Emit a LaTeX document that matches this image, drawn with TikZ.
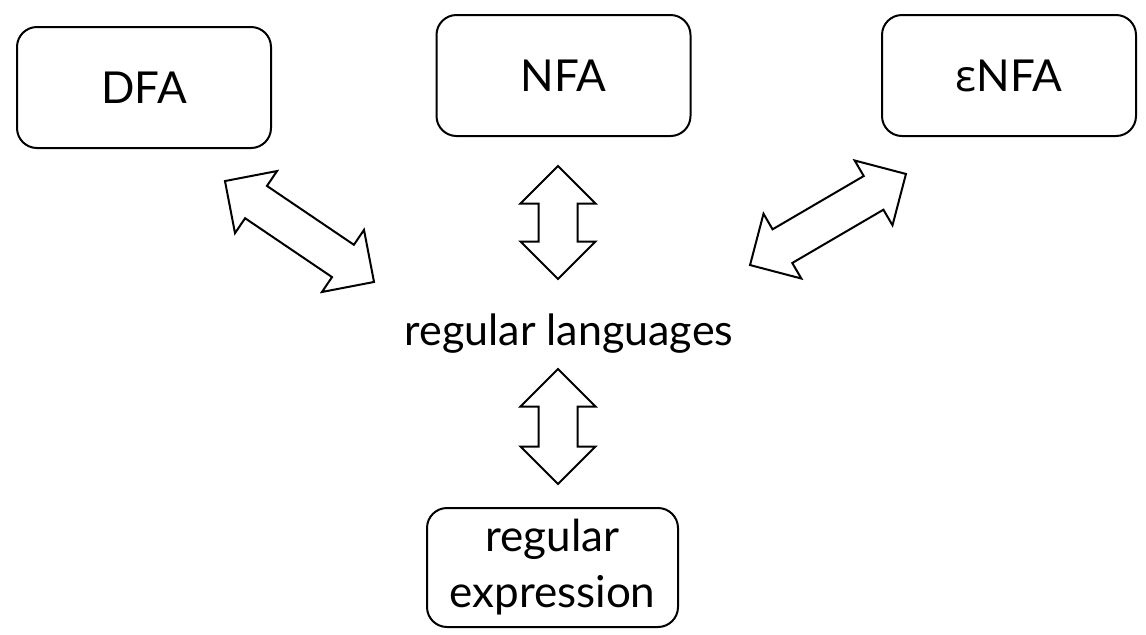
\documentclass[tikz,border=0pt]{standalone}
\usepackage{fontspec}
\setmainfont{Lato}
\newfontfamily\grkfont{Open Sans}
\usepackage{tikz}
\usetikzlibrary{positioning}
\usetikzlibrary{shapes.arrows}
\tikzset{box/.style={draw, line width=1pt, rounded corners=10pt, minimum width=127pt, minimum height=60.5pt, align=center, font=\fontsize{22}{28}\selectfont}}
\tikzset{dblarrow/.style={draw, line width=1pt, double arrow, double arrow head extend=9pt, inner xsep=0pt, inner ysep=9.25pt}}

\begin{document}
\begin{tikzpicture}[x=0.5pt, y=-0.5pt]
\useasboundingbox (0,0) rectangle (1146,634);
\node[box] (dfa) at (144,87.5) {DFA};
\node[box] (nfa) at (563.5,75.5) {NFA};
\node[box] (enfa) at (1009,75.5) {{\grkfont ε}NFA};
\node[anchor=base, font=\fontsize{21.5}{24}\selectfont] (lang) at (569,345) {regular languages};
\node[box, minimum width=125.5pt, minimum height=59.5pt] (rexp) at (552.5,567.5) {regular\\expression};

\node[dblarrow, minimum height=90pt, rotate=-34.1] (dfalang) at (299.5,231.5) {};
\node[dblarrow, minimum height=56.5pt, rotate=90] (nfalang) at (558,222.5) {};
\node[dblarrow, minimum height=90.3pt, rotate=30.3] (enfalang) at (828,219.5) {};
\node[dblarrow, minimum height=57.5pt, rotate=90] (langrexp) at (558,426.5) {};
\end{tikzpicture}
\end{document}
